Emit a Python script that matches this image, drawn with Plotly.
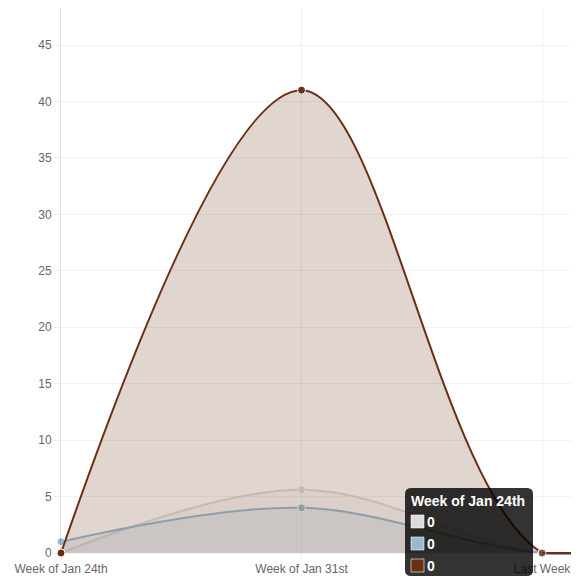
import plotly.graph_objects as go

# --- data ---
weeks = ['Week of Jan 24th', 'Week of Jan 31st', 'Last Week', 'This Week']
grey_vals = [0, 5.6, 0, 0]
blue_vals = [1, 4, 0, 0]
brown_vals = [0, 41, 0, 0]

tip_title = 'Week of Jan 24th'
tip_vals = [0, 0, 0]

series = [
    ('grey', grey_vals, '220,220,220'),
    ('blue', blue_vals, '151,187,205'),
    ('brown', brown_vals, '107,47,20'),
]

FONT = 'Liberation Sans, Helvetica Neue, Arial, sans-serif'
OFF = 8  # default body margin of the html page
W, H = 579 - OFF, 580 - OFF
L, R, T, B = 61 - OFF, 0, 0, 25
UNIT = (553 - 45) / 45  # px per y unit
Y0 = 553  # page pixel of y = 0

xs = list(range(len(weeks)))
fig = go.Figure()
for name, vals, rgb in series:
    fig.add_trace(go.Scatter(
        x=xs, y=vals, name=name,
        mode='lines+markers',
        line=dict(color=f'rgb({rgb})', width=2, shape='spline', smoothing=1),
        marker=dict(size=8, color=f'rgb({rgb})', line=dict(color='white', width=1)),
        fill='tozeroy',
        fillcolor=f'rgba({rgb},0.2)',
        cliponaxis=False,
        hoverinfo='skip',
    ))

# chart.js caps the bezier handles at the bottom, so the tail after the
# last labelled week stays flat: redraw it straight on top
for name, vals, rgb in series:
    fig.add_trace(go.Scatter(
        x=xs[2:], y=vals[2:], name=name + ' tail',
        mode='lines+markers',
        line=dict(color=f'rgb({rgb})', width=2),
        marker=dict(size=[8, 0], color=f'rgb({rgb})', line=dict(color='white', width=[1, 0])),
        cliponaxis=False,
        hoverinfo='skip',
    ))

# --- static tooltip box (page pixel -> paper coords) ---
pw, ph = W - L - R, H - T - B


def px(x):
    return (x - OFF - L) / pw


def py(y):
    return (H - B - (y - OFF)) / ph


def rounded(x0, y0, x1, y1, r):
    return (f'M {px(x0 + r)},{py(y0)} L {px(x1 - r)},{py(y0)} '
            f'Q {px(x1)},{py(y0)} {px(x1)},{py(y0 + r)} '
            f'L {px(x1)},{py(y1 - r)} Q {px(x1)},{py(y1)} {px(x1 - r)},{py(y1)} '
            f'L {px(x0 + r)},{py(y1)} Q {px(x0)},{py(y1)} {px(x0)},{py(y1 - r)} '
            f'L {px(x0)},{py(y0 + r)} Q {px(x0)},{py(y0)} {px(x0 + r)},{py(y0)} Z')


shapes = [dict(type='path', xref='paper', yref='paper',
               path=rounded(405, 488, 533, 576, 6),
               fillcolor='rgba(0,0,0,0.8)', line=dict(width=0), layer='above')]
annotations = [dict(xref='paper', yref='paper', x=px(409), y=py(501),
                    xanchor='left', yanchor='middle', showarrow=False,
                    text=f'<b>{tip_title}</b>',
                    font=dict(family=FONT, size=14, color='white'))]
row_tops = [515, 537, 559]
for (name, vals, rgb), top, v in zip(series, row_tops, tip_vals):
    shapes.append(dict(type='rect', xref='paper', yref='paper',
                       x0=px(411), x1=px(424), y0=py(top), y1=py(top + 13),
                       fillcolor=f'rgb({rgb})',
                       line=dict(color='rgba(255,255,255,0.6)', width=1), layer='above'))
    annotations.append(dict(xref='paper', yref='paper', x=px(425), y=py(top + 7),
                            xanchor='left', yanchor='middle', showarrow=False,
                            text=f'<b>{v}</b>', font=dict(family=FONT, size=14, color='white')))

bottom_px = H - B + OFF  # page pixel of plot bottom
fig.update_layout(
    width=W, height=H,
    margin=dict(l=L, r=R, t=T, b=B, pad=0),
    paper_bgcolor='white', plot_bgcolor='white',
    showlegend=False,
    font=dict(family=FONT, size=12, color='#666666'),
    shapes=shapes,
    annotations=annotations,
    xaxis=dict(
        tickmode='array', tickvals=xs, ticktext=weeks,
        range=[0, 2 + (579 - 542) / 241],
        showgrid=True, gridcolor='rgba(0,0,0,0.05)', gridwidth=1,
        ticks='outside', ticklen=3, tickcolor='rgba(0,0,0,0.08)',
        showline=False, zeroline=False,
    ),
    yaxis=dict(
        range=[-(bottom_px - Y0) / UNIT, (Y0 - OFF) / UNIT], dtick=5,
        showgrid=True, gridcolor='rgba(0,0,0,0.05)', gridwidth=1,
        ticks='outside', ticklen=6, tickcolor='rgba(0,0,0,0.08)',
        showline=True, linecolor='rgba(0,0,0,0.12)', linewidth=1,
        zeroline=False,
    ),
)

fig.write_html('out.html')
